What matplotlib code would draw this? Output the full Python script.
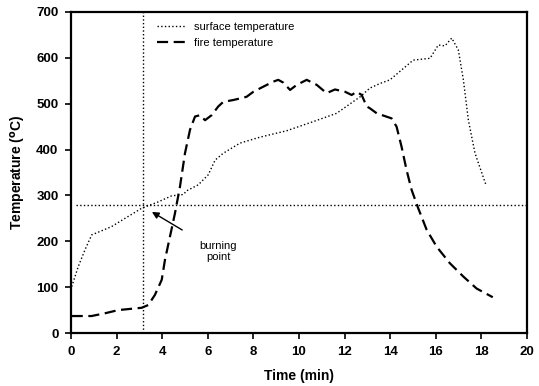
import matplotlib
matplotlib.use("Agg")
import matplotlib.pyplot as plt

plt.rcParams['font.family'] = ['Liberation Sans', 'DejaVu Sans']

# Surface temperature readings (time in min, temperature in degC)
surface_time = [0.03, 0.32, 0.61, 0.91, 1.35, 1.78, 2.37, 3.1, 3.83, 4.41, 4.93,
                5.07, 5.58, 6.02, 6.32, 6.68, 7.41, 8.29, 9.46, 10.63, 11.65,
                12.68, 13.11, 13.55, 13.99, 15.01, 15.75, 16.11, 16.4, 16.7,
                16.99, 17.21, 17.43, 17.72, 18.2]
surface_temp = [101, 145, 181, 214, 223, 232, 250, 272, 286, 299, 302,
                310, 323, 345, 377, 392, 414, 427, 441, 461, 479,
                515, 534, 544, 552, 595, 599, 628, 626, 643,
                617, 552, 464, 392, 323]

# Fire temperature readings
fire_time = [0.03, 0.9, 1.49, 2.08, 3.1, 3.39, 3.68, 3.98, 4.12, 4.34, 4.56,
             4.78, 5.0, 5.22, 5.44, 5.66, 5.88, 6.17, 6.46, 6.68, 7.12, 7.7,
             8.0, 8.43, 8.87, 9.09, 9.31, 9.61, 9.9, 10.34, 10.78, 11.21,
             11.58, 12.02, 12.31, 12.53, 12.75, 12.97, 13.11, 13.41, 14.06,
             14.28, 14.5, 14.72, 14.94, 15.23, 15.6, 16.04, 16.62, 17.21,
             17.79, 18.5]
fire_temp = [37, 37, 43, 50, 55, 61, 83, 116, 159, 210, 261,
             319, 392, 443, 472, 475, 464, 475, 494, 504, 508, 515,
             526, 537, 548, 552, 546, 530, 541, 552, 541, 523,
             531, 526, 519, 526, 519, 494, 490, 479, 468,
             450, 406, 355, 312, 272, 225, 188, 152, 123,
             97, 78]

burning_time = 3.15
burning_temp = 280

x_ticks = [0, 2, 4, 6, 8, 10, 12, 14, 16, 18, 20]
y_ticks = [0, 100, 200, 300, 400, 500, 600, 700]

fig = plt.figure(figsize=(5.39, 3.86), dpi=100)
ax = fig.add_axes([0.1317, 0.1373, 0.846, 0.8317])

ax.plot(surface_time, surface_temp, color='black', linestyle=':', linewidth=1.0,
        label='surface temperature')
ax.plot(fire_time, fire_temp, color='black', linestyle=(0, (5, 2.5)), linewidth=1.6,
        label='fire temperature')

ax.axvline(burning_time, color='black', linestyle=':', linewidth=1.0)
ax.axhline(burning_temp, xmin=0.01, color='black', linestyle=':', linewidth=1.0)

ax.annotate('burning\npoint', xy=(3.55, 264), xytext=(6.45, 178),
            ha='center', va='center', fontsize=8, linespacing=1.1,
            arrowprops=dict(arrowstyle='-|>', color='black', lw=1.0,
                            shrinkA=12, shrinkB=0, mutation_scale=10))

ax.set_xlim(0, 20)
ax.set_ylim(0, 700)
ax.set_xticks(x_ticks)
ax.set_yticks(y_ticks)
ax.tick_params(direction='out', length=4, width=1.2, labelsize=9.5, pad=5)
for lbl in ax.get_xticklabels() + ax.get_yticklabels():
    lbl.set_fontweight('bold')

for sp in ax.spines.values():
    sp.set_linewidth(1.6)

ax.set_xlabel('Time (min)', fontsize=10, fontweight='bold', labelpad=8)
ax.set_ylabel(r'Temperature ($^{\mathbf{o}}$C)', fontsize=10, fontweight='bold', labelpad=6)

ax.legend(loc='upper left', bbox_to_anchor=(0.173, 0.99), frameon=False,
          fontsize=8, handlelength=2.6, labelspacing=0.55, handletextpad=0.8,
          borderaxespad=0.2)

fig.savefig('out.png', dpi=100)
